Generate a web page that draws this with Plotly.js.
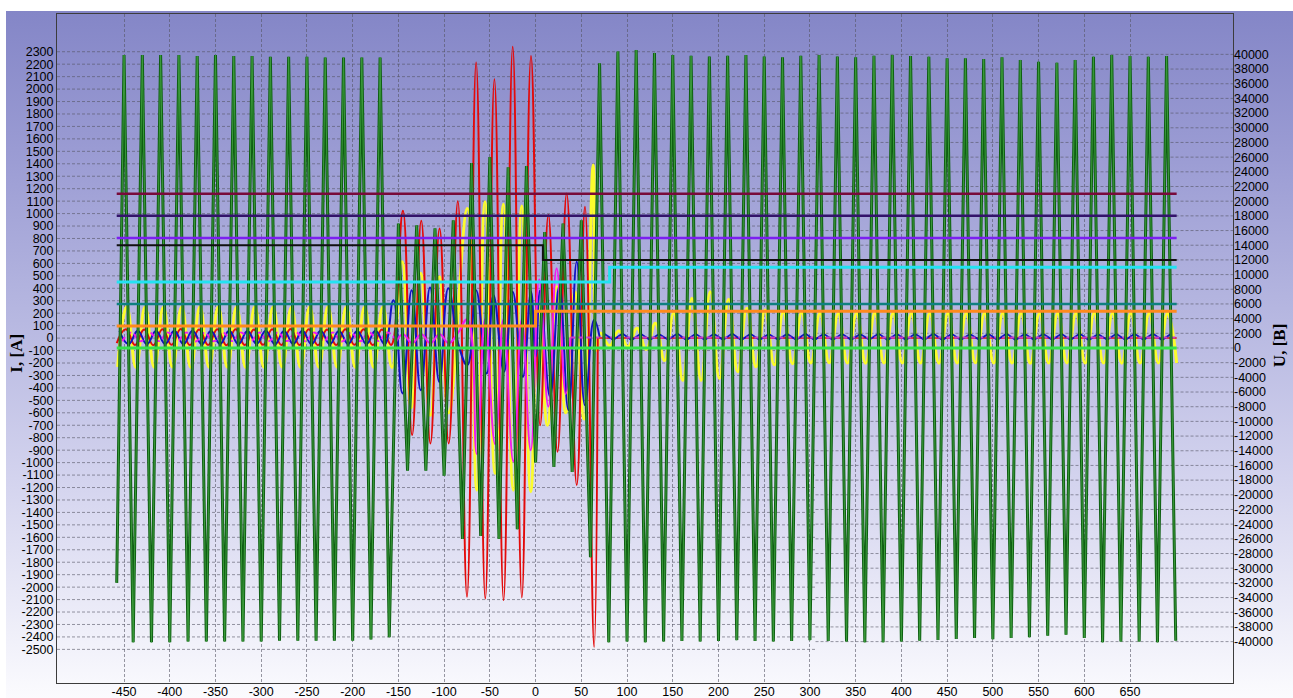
<!DOCTYPE html>
<html>
<head>
<meta charset="utf-8">
<script src="https://cdn.plot.ly/plotly-3.0.1.min.js"></script>
<style>
  html, body { margin: 0; padding: 0; background: #ffffff; }
  #wrap { position: relative; width: 1293px; height: 698px; overflow: hidden; background: #ffffff; }
  #bg { position: absolute; left: 6px; top: 11px; right: 0; bottom: 0;
        background: linear-gradient(to bottom, #8486c7 0%, #9c9dd4 22%, #b7b8e1 45%, #d3d3ee 68%, #ececf8 88%, #fbfbfe 100%); }
  #chart { position: absolute; left: 0; top: 0; width: 1293px; height: 698px; }
</style>
</head>
<body>
<div id="wrap"><div id="bg"></div><div id="chart"></div></div>
<script>
// ---- axis ticks ----
const xTicks = [-450,-400,-350,-300,-250,-200,-150,-100,-50,0,50,100,150,200,250,300,350,400,450,500,550,600,650];
const iTicks = [-2500,-2400,-2300,-2200,-2100,-2000,-1900,-1800,-1700,-1600,-1500,-1400,-1300,-1200,-1100,-1000,
  -900,-800,-700,-600,-500,-400,-300,-200,-100,0,100,200,300,400,500,600,700,800,900,1000,1100,1200,1300,1400,
  1500,1600,1700,1800,1900,2000,2100,2200,2300];
const uTicks = [-40000,-38000,-36000,-34000,-32000,-30000,-28000,-26000,-24000,-22000,-20000,-18000,-16000,-14000,
  -12000,-10000,-8000,-6000,-4000,-2000,0,2000,4000,6000,8000,10000,12000,14000,16000,18000,20000,22000,24000,
  26000,28000,30000,32000,34000,36000,38000,40000];

// ---- line voltage U (green), extremes every half period ----
const uFirstT = -458, uFirstV = -32000;
const uPeakT0 = -450;           // first positive peak, then every 20 ms
const uPeaks = [39900,39900,39900,39900,39760,39900,39760,39760,39660,39660,39660,39580,39580,39580,39580,
  16950,16700,16300,17400,25200,26000,24600,24800,15800,16950,17400,38800,40400,
  40600,40200,39900,39800,39700,39800,39900,39700,39600,39800,39900,39700,39600,39800,39900,
  39780,39690,39470,39470,39370,39600,39240,39000,38870,39240,39690,39920,39780,39690,39780];
const uTroughs = [-40100,-40100,-40100,-40000,-40000,-40000,-40000,-40000,-39870,-39870,-39870,-39870,-39870,-39700,-39400,
  -16700,-16700,-17400,-26000,-25600,-26000,-24700,-15600,-16200,-16900,-28500,-40100,
  -40000,-40100,-40000,-39900,-40000,-39900,-39800,-39900,-40000,-39900,-39800,-39900,-40000,-40100,-40100,-40000,
  -39870,-39780,-39640,-39500,-39690,-39500,-39420,-39190,-39050,-39500,-40100,-40000,-40000,-40100,-39870];

// ---- yellow current ----
const yelPreT0 = -457;          // first trough
const yelPreTroughs = [-232,-236,-235,-233,-236,-234,-235,-237,-234,-233,-236,-235,-234,-236,-235,-236];
const yelPrePeaks = [252,250,248,250,251,249,250,252,250,248,250,251,250,249,250];
const yelFaultT = [-146,-136,-125.6,-115,-105,-95,-74.6,-64.3,-55.3,-44.3,-35.2,-24.3,-15.1,-5.3,3,13,23,33,43,53,63,67];
const yelFaultI = [613,-560,520,-620,492,-600,1041,-1221,1095,-1087,1076,-1221,1060,-1234,300,-700,412,-600,372,-650,1390,-100];
const yelPostT0 = 71;           // first peak after clearing
const yelPostPeaks = [40,60,80,120,200,320,372,313,240,225,210,205,200,198,200,202,200,198,200,200,199,200,
  201,200,198,200,200,202,200,199,200,200];
const yelPostTroughs = [-60,-70,-90,-180,-340,-340,-325,-271,-230,-215,-205,-200,-198,-200,-202,-200,-199,-200,
  -201,-200,-198,-200,-200,-202,-200,-199,-200,-200,-201,-200,-199,-200];

// ---- red current ----
const redPreT0 = -458;          // first trough
const redPreTroughs = [-40,-55,-57,-54,-56,-55,-57,-56,-54,-55,-56,-57,-55,-54,-56,-55];
const redPrePeaks = [72,70,71,73,70,72,71,70,72,73,71,70,72,71,70];
const redFaultT = [-155,-145,-135,-125,-115,-105,-95,-85,-75,-65,-55,-45,-35,-25,-15,-5,5,14,24,34,45,54,64,68];
const redFaultI = [0,1023,-779,942,-846,881,-846,1100,-2078,2214,-2091,2078,-2104,2340,-2083,2265,-700,988,-913,1162,-1180,1055,-2480,0];
const redPostT = [68, 701];
const redPostI = [0, 0];

// ---- blue current ----
const bluePreT0 = -455;         // first peak
const bluePrePeaks = [58,60,57,59,60,58,59,57,60,58,59,60,57,58,59];
const bluePreTroughs = [-48,-50,-47,-49,-50,-48,-49,-47,-50,-48,-49,-50,-47,-48,-49];
const blueFaultT = [-155.5,-145.6,-135.5,-125.6,-115.4,-105.2,-95.4,-84,-74.6,-65,-53.4,-46,-34.5,-25,-14,-5,0,5,15.8,26,35.9,45,54,64,70];
const blueFaultI = [305,-444,385,-418,407,-351,400,-60,-217,385,-284,345,-271,372,-311,372,-150,385,-471,420,-578,613,-538,145,10];
const bluePostT0 = 75;          // first peak of the residual ripple
const bluePostPeaks = [34,36,35,33,36,35,34,36,35,33,34,36,35,34,33,36,35,34,36,35,33,34,36,35,34,35,36,33,35,34,36,35];
const bluePostTroughs = [-14,-16,-15,-13,-16,-15,-14,-16,-15,-13,-14,-16,-15,-14,-13,-16,-15,-14,-16,-15,-13,-14,-16,-15,-14,-15,-16,-13,-15,-14,-16];

// ---- magenta current ----
const pinkPreT0 = -452;         // first trough
const pinkPreTroughs = [-25,-26,-24,-25,-27,-25,-24,-26,-25,-24,-26,-25,-27,-25,-24,-25];
const pinkPrePeaks = [45,44,46,45,43,45,46,44,45,46,44,45,43,45,46];
const pinkFaultT = [-152,-145,-135,-125,-115,-105,-95,-85,-74.6,-64.3,-55.3,-44.3,-35.2,-24.3,-15.1,-5.3,4,14,23,33,38];
const pinkFaultI = [-25,30,-40,30,-40,30,-40,40,150,-930,150,-850,150,-990,150,-900,470,-550,560,-450,5];
const pinkPostT = [38, 701];
const pinkPostI = [5, 5];

// ---- setting / status levels (right axis, V) ----
const levelSpan = [-458, 701];
const maroonU = [21000, 21000];
const indigoU = [18000, 18000];
const violetU = [15000, 15000];
const blackStepT = [-458, 8, 701];
const blackStepU = [14000, 12000, 12000];
const cyanStepT = [-458, 81, 701];
const cyanStepU = [9000, 11000, 11000];
const tealU = [6000, 6000];
const orangeStepT = [-458, 0, 701];
const orangeStepU = [3000, 5000, 5000];
const limeU = [0, 0];

// interleave two lists of extremes sampled every `step` ms
function interleave(t0, step, first, second) {
  const x = [], y = [];
  const n = Math.max(first.length, second.length);
  for (let k = 0; k < n; k++) {
    if (k < first.length) { x.push(t0 + 2 * step * k); y.push(first[k]); }
    if (k < second.length) { x.push(t0 + step + 2 * step * k); y.push(second[k]); }
  }
  return { x, y };
}

const uSeries = interleave(uPeakT0, 10, uPeaks, uTroughs);
uSeries.x.unshift(uFirstT); uSeries.y.unshift(uFirstV);

const yelPre = interleave(yelPreT0, 10, yelPreTroughs, yelPrePeaks);
const yelPost = interleave(yelPostT0, 10, yelPostPeaks, yelPostTroughs);
const yelX = yelPre.x.concat(yelFaultT, yelPost.x);
const yelY = yelPre.y.concat(yelFaultI, yelPost.y);

const redPre = interleave(redPreT0, 10, redPreTroughs, redPrePeaks);
const redX = redPre.x.concat(redFaultT);
const redY = redPre.y.concat(redFaultI);

const bluePre = interleave(bluePreT0, 10, bluePrePeaks, bluePreTroughs);
const blueX = bluePre.x.concat(blueFaultT);
const blueY = bluePre.y.concat(blueFaultI);
const bluePost = interleave(bluePostT0, 10, bluePostPeaks, bluePostTroughs);

const pinkPre = interleave(pinkPreT0, 10, pinkPreTroughs, pinkPrePeaks);

function curve(x, y, color, width, dash) {
  return { type: 'scatter', mode: 'lines', x, y, hoverinfo: 'skip', showlegend: false,
    line: { color, width, shape: 'spline', smoothing: 1.3, dash: dash || 'solid' } };
}
function plain(x, y, color, width, dash) {
  return { type: 'scatter', mode: 'lines', x, y, hoverinfo: 'skip', showlegend: false,
    line: { color, width, dash: dash || 'solid' } };
}
function level(x, y, color, width) {
  return { type: 'scatter', mode: 'lines', x, y, yaxis: 'y2', hoverinfo: 'skip', showlegend: false,
    line: { color, width, shape: 'hv' } };
}

const traces = [
  // line voltage
  { type: 'scatter', mode: 'lines', x: uSeries.x, y: uSeries.y, yaxis: 'y2', hoverinfo: 'skip', showlegend: false,
    line: { color: '#0e5f12', width: 3 } },
  { type: 'scatter', mode: 'lines', x: uSeries.x, y: uSeries.y, yaxis: 'y2', hoverinfo: 'skip', showlegend: false,
    line: { color: '#3c9b3c', width: 1 } },
  // currents
  curve(yelX, yelY, '#fcfc2c', 3),
  curve(redX, redY, '#e30a0a', 2),
  plain(redPostT, redPostI, '#e30a0a', 1.5),
  curve(blueX, blueY, '#1212c4', 2),
  plain(bluePost.x, bluePost.y, '#1212c4', 1.8),
  curve(pinkPre.x, pinkPre.y, '#f01cf0', 2, '5px,3px'),
  curve(pinkFaultT, pinkFaultI, '#f01cf0', 2),
  plain(pinkPostT, pinkPostI, '#c83cc8', 2, '5px,3px'),
  // levels
  level(levelSpan, limeU, '#35e24c', 3),
  level(orangeStepT, orangeStepU, '#ff8a1c', 3),
  level(levelSpan, tealU, '#0f8080', 2.5),
  level(cyanStepT, cyanStepU, '#22e2f2', 3),
  level(blackStepT, blackStepU, '#101010', 2),
  level(levelSpan, violetU, '#7c1ff0', 2.5),
  level(levelSpan, indigoU, '#33136a', 2.5),
  level(levelSpan, maroonU, '#780a3a', 2.5)
];

// dashed grid: current-axis grid on the left part of the frame, voltage-axis grid on the right part
const gridCol = 'rgba(85,85,100,0.6)';
const gridSplit = 0.645;
const shapes = [];
iTicks.forEach(v => shapes.push({ type: 'line', layer: 'below', xref: 'paper', x0: 0, x1: gridSplit,
  yref: 'y', y0: v, y1: v, line: { color: gridCol, width: 1, dash: '3px,2px' } }));
uTicks.forEach(v => shapes.push({ type: 'line', layer: 'below', xref: 'paper', x0: gridSplit, x1: 1,
  yref: 'y2', y0: v, y1: v, line: { color: gridCol, width: 1, dash: '3px,2px' } }));

const tickFont = { family: 'Liberation Sans, Arial, sans-serif', size: 12.5, color: '#000000' };

const layout = {
  width: 1293, height: 698,
  margin: { l: 57, r: 60, t: 14, b: 15, pad: 0 },
  paper_bgcolor: 'rgba(0,0,0,0)', plot_bgcolor: 'rgba(0,0,0,0)',
  showlegend: false,
  shapes: shapes,
  xaxis: {
    range: [-523.3, 762.6], tickmode: 'array', tickvals: xTicks, ticktext: xTicks.map(String),
    showgrid: true, gridcolor: gridCol, gridwidth: 1, griddash: '3px,2px', zeroline: false,
    showline: true, mirror: true, linecolor: '#3c3c3c', linewidth: 1, ticks: '', ticklabelstandoff: -3,
    tickfont: tickFont, automargin: false, fixedrange: true
  },
  yaxis: {
    range: [-2770, 2603], tickmode: 'array', tickvals: iTicks, ticktext: iTicks.map(String),
    showgrid: false, zeroline: false,
    showline: true, mirror: true, linecolor: '#3c3c3c', linewidth: 1, ticks: '',
    tickfont: tickFont, automargin: false, fixedrange: true
  },
  yaxis2: {
    overlaying: 'y', side: 'right',
    range: [-45640, 45500], tickmode: 'array', tickvals: uTicks, ticktext: uTicks.map(String),
    showgrid: false, zeroline: false,
    showline: false, ticks: '', tickfont: tickFont, automargin: false, fixedrange: true
  },
  annotations: [
    { text: '<b>I, [A]</b>', xref: 'paper', yref: 'paper', x: -0.0343, y: 0.4933, showarrow: false,
      textangle: -90, xanchor: 'center', yanchor: 'middle',
      font: { family: 'Liberation Serif, Times New Roman, serif', size: 17, color: '#000000' } },
    { text: '<b>U, [B]</b>', xref: 'paper', yref: 'paper', x: 1.0391, y: 0.505, showarrow: false,
      textangle: -90, xanchor: 'center', yanchor: 'middle',
      font: { family: 'Liberation Serif, Times New Roman, serif', size: 17, color: '#000000' } }
  ]
};

Plotly.newPlot('chart', traces, layout, { displayModeBar: false, staticPlot: true });
</script>
</body>
</html>
